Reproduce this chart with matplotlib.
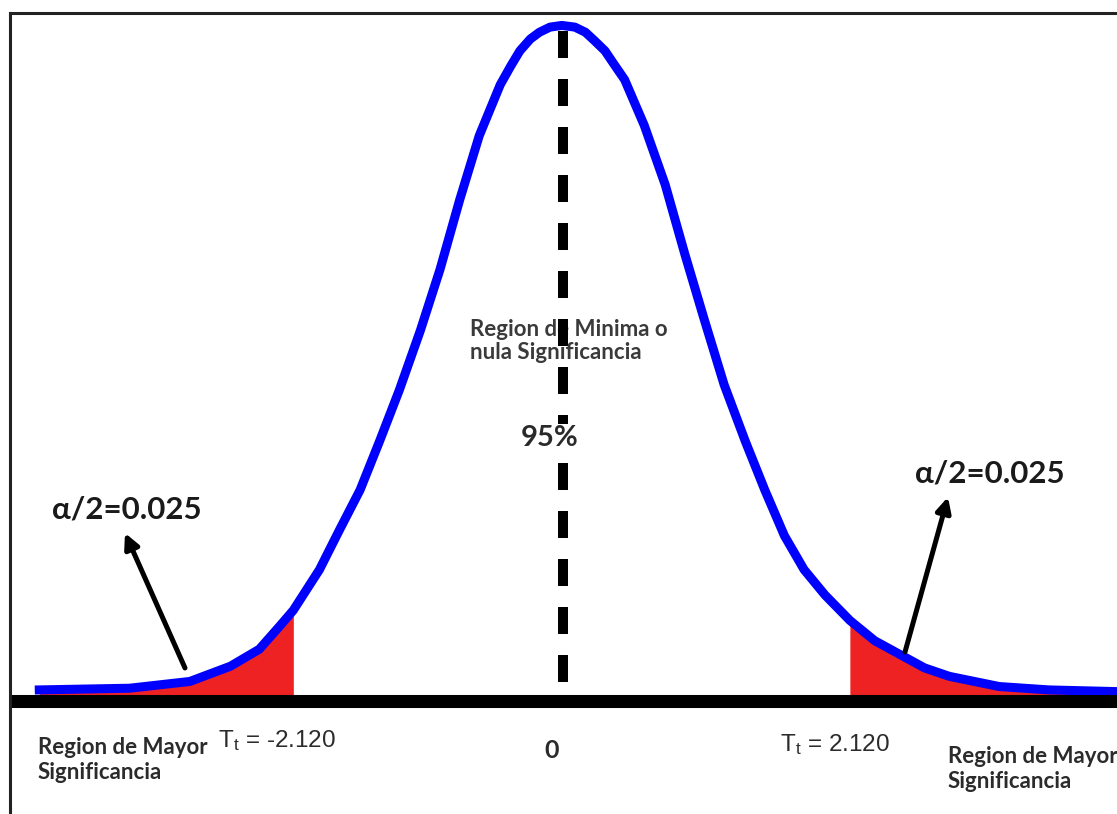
import numpy as np
import matplotlib
matplotlib.use('Agg')
import matplotlib.pyplot as plt
from matplotlib.lines import Line2D

plt.rcParams['font.family'] = ['Lato', 'DejaVu Sans']
plt.rcParams['mathtext.fontset'] = 'custom'
plt.rcParams['mathtext.rm'] = 'Liberation Sans'

# t-curve (t value, density)
curve_t = [-4.02, -3.33, -2.87, -2.56, -2.34, -2.18, -2.08, -1.88, -1.73, -1.57,
           -1.42, -1.27, -1.11, -0.96, -0.81, -0.66, -0.50, -0.42, -0.35, -0.27,
           -0.20, -0.12, -0.03, 0.07, 0.15, 0.22, 0.30, 0.37, 0.45, 0.60,
           0.76, 0.91, 1.06, 1.21, 1.37, 1.52, 1.67, 1.82, 1.98, 2.17,
           2.36, 2.55, 2.74, 2.93, 3.12, 3.31, 3.69, 4.21]
curve_d = [0.003, 0.004, 0.008, 0.017, 0.027, 0.041, 0.050, 0.074, 0.097, 0.121,
           0.150, 0.180, 0.215, 0.251, 0.292, 0.330, 0.360, 0.371, 0.380, 0.387,
           0.391, 0.394, 0.395, 0.394, 0.391, 0.386, 0.380, 0.372, 0.363, 0.336,
           0.301, 0.260, 0.221, 0.183, 0.150, 0.121, 0.094, 0.074, 0.059, 0.044,
           0.032, 0.024, 0.016, 0.011, 0.008, 0.005, 0.003, 0.002]

# critical region edges as drawn, and labels
tail_left = -2.08
tail_right = 2.17
center_t = -0.02
t_crit_labels = ['-2.120', '2.120']
alpha_label = 'α/2=0.025'
conf_label = '95%'

curve_t = np.array(curve_t)
curve_d = np.array(curve_d)

W, H = 1117, 814
fig = plt.figure(figsize=(W / 100, H / 100), dpi=100)
ax = fig.add_axes([0, 0, 1, 1])
ax.set_xlim(-4.32, 4.21)
ax.set_ylim(-0.0702, 0.410)
ax.axis('off')


def px(x, y):
    # picture pixel -> data coords
    return (-4.32 + x / W * (4.21 + 4.32), 0.410 - y / H * (0.410 + 0.0702))


# red tails
for lo, hi in [(curve_t[0], tail_left), (tail_right, curve_t[-1])]:
    m = (curve_t > lo) & (curve_t < hi)
    xs = np.concatenate([[lo], curve_t[m], [hi]])
    ys = np.interp(xs, curve_t, curve_d)
    ax.fill_between(xs, 0, ys, color='#ee2222', lw=0, zorder=2)

# blue curve
ax.plot(curve_t, curve_d, color='#0000ff', lw=6.5, solid_joinstyle='round', zorder=3)

# baseline
x0, _ = px(10, 0)
ax.plot([x0, 4.21], [-0.0037, -0.0037], color='black', lw=9.4, solid_capstyle='butt', zorder=4)

# dashed center line
ax.plot([center_t, center_t], [0.392, -0.001], color='black', lw=7.2,
        dashes=(2.7, 2.1), solid_capstyle='butt', zorder=6)

# frame
fig.add_artist(Line2D([10 / W, 10 / W], [0, 1 - 13 / H], color='#222222', lw=2.2))
fig.add_artist(Line2D([10 / W, 1], [1 - 13 / H, 1 - 13 / H], color='#222222', lw=2.2))

# arrows
for tail, head in [((185, 668), (125, 533)), ((905, 652), (948, 497))]:
    ax.annotate('', xy=px(*head), xytext=px(*tail),
                arrowprops=dict(arrowstyle='-|>', lw=3.6, color='black',
                                mutation_scale=22, shrinkA=0, shrinkB=0), zorder=7)

# texts
txt = '#2b2b2b'
ax.text(*px(52, 510), alpha_label, fontsize=22.5, fontweight='bold', color='#1a1a1a',
        ha='left', va='center', zorder=8)
ax.text(*px(915, 473), alpha_label, fontsize=22.5, fontweight='bold', color='#1a1a1a',
        ha='left', va='center', zorder=8)
ax.text(*px(470, 341), 'Region de Minima o\nnula Significancia', fontsize=16,
        fontweight='bold', color='#3a3a3a', ha='left', va='center', linespacing=1.15, zorder=5)
ax.text(*px(550, 438), conf_label, fontsize=21, fontweight='bold', color='#2a2a2a',
        ha='center', va='center', zorder=8,
        bbox=dict(facecolor='white', edgecolor='none', pad=1))
ax.text(*px(38, 760), 'Region de Mayor\nSignificancia', fontsize=16, fontweight='bold',
        color=txt, ha='left', va='center', linespacing=1.2, zorder=8)
ax.text(*px(948, 769), 'Region de Mayor\nSignificancia', fontsize=16, fontweight='bold',
        color=txt, ha='left', va='center', linespacing=1.2, zorder=8)
ax.text(*px(552, 750), '0', fontsize=18, fontweight='bold', color=txt,
        ha='center', va='center', zorder=8)
ax.text(*px(218, 741), r'$\mathregular{T_t}$ = ' + t_crit_labels[0], fontsize=17.5,
        family=['Liberation Sans Narrow', 'Liberation Sans'], color=txt,
        ha='left', va='center', zorder=8)
ax.text(*px(780, 745), r'$\mathregular{T_t}$ = ' + t_crit_labels[1], fontsize=17.5,
        family=['Liberation Sans Narrow', 'Liberation Sans'], color=txt,
        ha='left', va='center', zorder=8)

fig.savefig('out.png', dpi=100, facecolor='white')
